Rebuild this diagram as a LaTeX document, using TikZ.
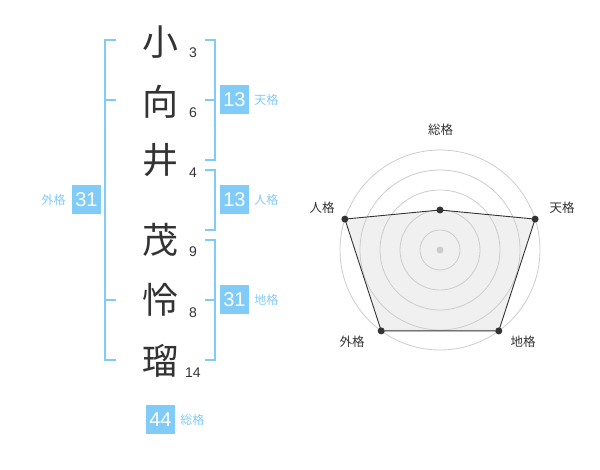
\documentclass[tikz,border=0pt]{standalone}
\usepackage{fontspec}
\setmainfont{Liberation Sans}
\newfontfamily\jp{Noto Sans CJK JP}
\usetikzlibrary{positioning}
\definecolor{kblue}{HTML}{80CBF8}
\definecolor{kgray}{HTML}{333333}
\definecolor{kring}{HTML}{CCCCCC}
\definecolor{kfill}{HTML}{F0F0F0}
\tikzstyle{dot}=[circle,fill=kgray,minimum size=7pt,inner sep=0pt]
\tikzstyle{kanji}=[text=kgray,font=\jp\fontsize{36}{36}\selectfont,inner sep=0pt]

\begin{document}
\begin{tikzpicture}[x=1pt,y=-1pt,
badge/.style={fill=kblue,text=white,minimum size=29pt,inner sep=0pt,
font=\fontsize{20}{20}\selectfont},
kaku/.style={text=kblue,font=\jp\fontsize{12}{12}\selectfont,inner sep=0pt},
stroke/.style={text=kgray,font=\fontsize{14}{14}\selectfont,inner sep=0pt},
bracket/.style={draw=kblue,line width=2pt},
axis/.style={text=kgray,font=\jp\fontsize{12.5}{12.5}\selectfont,inner sep=0pt},
]
\useasboundingbox (0,0) rectangle (600,470);
% name
\node[kanji] (k1) at (160,42) {小};
\node[kanji] (k2) at (160,102) {向};
\node[kanji] (k3) at (160,160) {井};
\node[kanji] (k4) at (160,240) {茂};
\node[kanji] (k5) at (160,300) {怜};
\node[kanji] (k6) at (160,361) {瑠};
\node[stroke] (s1) at (193,53) {3};
\node[stroke] (s2) at (193,113) {6};
\node[stroke] (s3) at (193,173) {4};
\node[stroke] (s4) at (193,252) {9};
\node[stroke] (s5) at (193,313) {8};
\node[stroke] (s6) at (193,373) {14};
% brackets
\draw[bracket] (116,40) -- (105,40) -- (105,360) -- (116,360);
\draw[bracket] (105,100) -- (116,100);
\draw[bracket] (105,300) -- (116,300);
\draw[bracket] (205,40) -- (215,40) -- (215,160) -- (205,160);
\draw[bracket] (205,100) -- (215,100);
\draw[bracket] (205,170) -- (215,170) -- (215,230) -- (205,230);
\draw[bracket] (205,240) -- (215,240) -- (215,360) -- (205,360);
\draw[bracket] (205,300) -- (215,300);
% badges
\node[badge] (ten) at (234.5,100) {13};
\node[kaku,right=5pt of ten] (tenl) {天格};
\node[badge] (jin) at (234.5,200) {13};
\node[kaku,right=5pt of jin] (jinl) {人格};
\node[badge] (chi) at (234.5,300) {31};
\node[kaku,right=5pt of chi] (chil) {地格};
\node[badge] (gai) at (86.5,200) {31};
\node[kaku,left=6pt of gai] (gail) {外格};
\node[badge] (so) at (160.5,419.5) {44};
\node[kaku,right=5pt of so] (sol) {総格};
% radar
\begin{scope}[shift={(440,250)},y=1pt]
\coordinate (rso) at (90:40);
\coordinate (rten) at (18:100);
\coordinate (rchi) at (-54:100);
\coordinate (rgai) at (-126:100);
\coordinate (rjin) at (162:100);
\fill[kfill] (rso) -- (rten) -- (rchi) -- (rgai) -- (rjin) -- cycle;
\foreach \r in {20,40,60,80,100}
  \draw[kring,line width=0.8pt] (0,0) circle (\r);
\node[circle,fill=kring,minimum size=7pt,inner sep=0pt] (rc) at (0,0) {};
\draw[kgray,line width=0.9pt] (rso) -- (rten) -- (rchi) -- (rgai) -- (rjin) -- cycle;
\node[dot] (pso) at (rso) {};
\node[dot] (pten) at (rten) {};
\node[dot] (pchi) at (rchi) {};
\node[dot] (pgai) at (rgai) {};
\node[dot] (pjin) at (rjin) {};
\node[axis] (lso) at (0.5,120) {総格};
\node[axis] (lten) at (122,42) {天格};
\node[axis] (ljin) at (-118,42) {人格};
\node[axis] (lchi) at (83,-92) {地格};
\node[axis] (lgai) at (-88,-92) {外格};
\end{scope}
\end{tikzpicture}
\end{document}
